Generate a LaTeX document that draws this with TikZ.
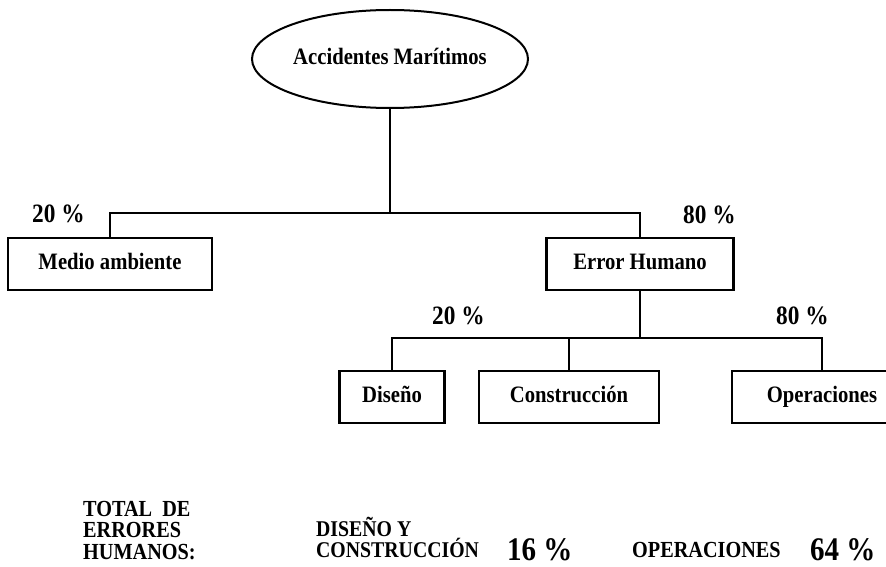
\documentclass[tikz,border=0pt]{standalone}
\usepackage{fontspec}
\setmainfont[FakeStretch=0.88]{Liberation Serif}
\usepackage{tikz}
\usetikzlibrary{
  positioning,
  shapes.geometric,
  calc
}
\tikzset{
  acnode/.style={
    draw, line width=2.6pt, inner sep=0pt, align=center,
    text height=16pt, text depth=4.5pt,
    font=\fontsize{23.5}{23.5}\selectfont\bfseries
  },
  acbox/.style={acnode, minimum height=52pt},
  acroot/.style={acnode, ellipse, line width=2pt, minimum width=276pt, minimum height=98pt},
  tree/.style={line width=2.8pt},
  pct/.style={font=\fontsize{26.5}{26.5}\selectfont\bfseries, inner sep=0pt, anchor=base west},
  bigpct/.style={font=\fontsize{33}{33}\selectfont\bfseries, inner sep=0pt, anchor=base west},
  sumtext/.style={font=\fontsize{23}{21.5}\selectfont\bfseries, align=left, inner sep=0pt}
}

\begin{document}
\begin{tikzpicture}[x=1pt, y=-1pt]
  \useasboundingbox (0,0) rectangle (886,567);
  % tree
  \node[acroot] (acc) at (390,59) {Accidentes Marítimos};
  \node[acbox, minimum width=204pt] (med) at (110,264) {Medio ambiente};
  \node[acbox, minimum width=187pt] (err) at (640,264) {Error Humano};
  \node[acbox, minimum width=105pt] (dis) at (392,397) {Diseño};
  \node[acbox, minimum width=180pt] (con) at (569,397) {Construcción};
  \node[acbox, minimum width=180pt] (ope) at (822,397) {Operaciones};
  \coordinate (topbar) at (0,213);
  \coordinate (lowbar) at (0,338);
  \draw[tree] (acc.south) -- (acc.south |- topbar) coordinate (topmid);
  \draw[tree] (med.north) |- (topmid) -| (err.north);
  \draw[tree] (err.south) -- (err.south |- lowbar) coordinate (lowmid);
  \draw[tree] (dis.north) |- (lowmid) -| (ope.north);
  \draw[tree] (con.north) -- (con.north |- lowbar);
  % shares
  \node[pct] (medpct) at (32,222) {20 \%};
  \node[pct] (errpct) at (683,223) {80 \%};
  \node[pct] (dispct) at (432,324) {20 \%};
  \node[pct] (opepct) at (776,324) {80 \%};
  % totals
  \node[sumtext, anchor=south west] (total) at (83,560) {TOTAL \ DE\\ERRORES\\HUMANOS:};
  \node[sumtext, font=\fontsize{22.5}{21.5}\selectfont\bfseries, anchor=south west] (dyc) at (316,558) {DISEÑO Y\\CONSTRUCCIÓN};
  \node[bigpct] (dycpct) at (507,560) {16 \%};
  \node[sumtext, anchor=base west] (optot) at (632,557) {OPERACIONES};
  \node[bigpct] (oppct) at (810,560) {64 \%};
\end{tikzpicture}
\end{document}
